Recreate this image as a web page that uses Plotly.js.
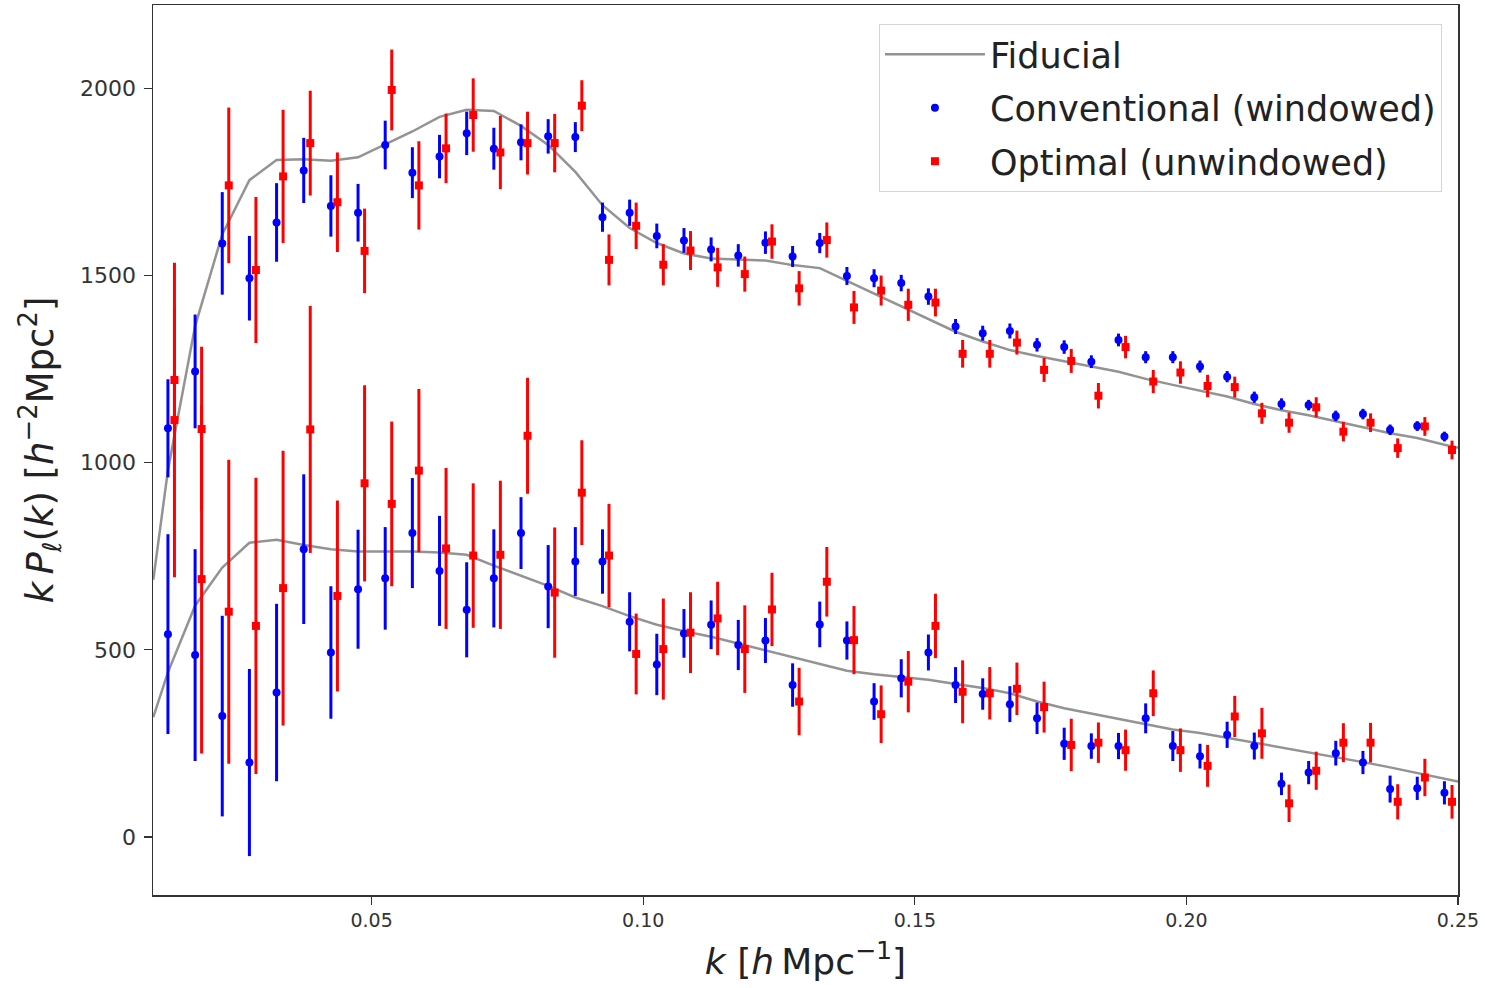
<!DOCTYPE html>
<html>
<head>
<meta charset="utf-8">
<script src="https://cdn.plot.ly/plotly-3.0.1.min.js"></script>
<style>html,body{margin:0;padding:0;background:#fff;}#chart{width:1485px;height:988px;}</style>
</head>
<body>
<div id="chart"></div>
<script>
// ---- data ----
var k_conv = [0.0125,0.0175,0.0225,0.0275,0.0325,0.0375,0.0425,0.0475,0.0525,0.0575,0.0625,0.0675,
  0.0725,0.0775,0.0825,0.0875,0.0925,0.0975,0.1025,0.1075,0.1125,0.1175,0.1225,0.1275,
  0.1325,0.1375,0.1425,0.1475,0.1525,0.1575,0.1625,0.1675,0.1725,0.1775,0.1825,0.1875,
  0.1925,0.1975,0.2025,0.2075,0.2125,0.2175,0.2225,0.2275,0.2325,0.2375,0.2425,0.2475];
var k_opt = [0.0137,0.0187,0.0237,0.0287,0.0337,0.0387,0.0437,0.0487,0.0537,0.0587,0.0637,0.0687,
  0.0737,0.0787,0.0837,0.0887,0.0937,0.0987,0.1037,0.1087,0.1137,0.1187,0.1237,0.1287,
  0.1338,0.1388,0.1438,0.1488,0.1538,0.1588,0.1638,0.1688,0.1738,0.1788,0.1838,0.1888,
  0.1939,0.1989,0.2039,0.2089,0.2139,0.2189,0.2239,0.2289,0.2339,0.2389,0.2439,0.2489];

var P0_conv = [1092,1244,1586,1493,1642,1781,1686,1668,1849,1775,1818,1880,
  1839,1856,1872,1870,1656,1668,1606,1594,1570,1554,1588,1551,
  1587,1499,1493,1480,1444,1364,1346,1352,1315,1309,1270,1328,
  1282,1282,1257,1230,1175,1157,1154,1125,1130,1088,1098,1070];
var E0_conv = [131,152,137,113,105,87,82,77,65,68,58,58,
  56,48,46,40,39,35,33,33,32,30,30,28,
  27,24,24,22,22,20,20,20,18,18,17,17,
  16,16,16,15,15,15,14,14,14,14,13,13];
var P0_opt = [1221,1090,1741,1515,1765,1854,1696,1566,1996,1741,1840,1929,
  1829,1854,1854,1954,1542,1633,1529,1567,1522,1504,1591,1466,
  1595,1415,1460,1422,1428,1291,1291,1321,1248,1272,1179,1309,
  1217,1241,1205,1202,1132,1107,1148,1083,1107,1039,1097,1034];
var E0_opt = [200,220,208,195,178,140,133,113,108,118,93,98,
  98,84,78,68,68,62,55,52,52,47,46,46,
  47,44,40,43,37,37,37,32,32,32,34,30,
  31,30,30,28,28,27,27,26,25,26,25,25];

var P2_conv = [542,486,323,199,386,769,493,662,691,812,711,607,
  691,812,669,736,736,575,461,544,567,513,525,406,
  568,525,362,424,493,406,382,355,317,249,243,243,
  317,243,216,273,243,142,172,224,199,128,130,118];
var E2_conv = [267,283,268,250,237,200,177,159,137,147,147,127,
  131,96,111,92,86,79,82,65,65,67,60,58,
  61,51,49,51,48,48,42,48,42,43,34,35,
  40,40,33,35,36,30,31,33,31,36,31,31];
var P2_opt = [1114,689,602,564,665,1089,644,945,890,979,771,752,
  754,1072,653,920,752,489,502,546,584,502,608,362,
  682,526,328,415,564,388,384,396,347,246,252,232,
  384,232,190,322,277,90,177,252,252,94,159,94];
var E2_opt = [420,466,406,396,367,330,255,262,220,218,215,193,
  198,155,174,140,138,108,135,108,98,117,98,90,
  93,91,77,82,86,84,70,70,68,70,54,55,
  61,58,56,55,68,50,51,52,53,47,50,45];

var k_fid = [0.0098,0.0125,0.0175,0.0225,0.0275,0.0325,0.0375,0.0425,0.0475,0.0525,0.0575,0.0625,0.0675,
  0.0725,0.0775,0.0825,0.0875,0.0925,0.0975,0.1025,0.1075,0.1125,0.1175,0.1225,0.1275,
  0.1325,0.1375,0.1425,0.1475,0.1525,0.1575,0.1625,0.1675,0.1725,0.1775,0.1825,0.1875,
  0.1925,0.1975,0.2025,0.2075,0.2125,0.2175,0.2225,0.2275,0.2325,0.2375,0.2425,0.2475,0.2500];
var fid_P0 = [687,980,1365,1610,1755,1809,1811,1807,1816,1850,1885,1924,1943,
  1940,1900,1849,1777,1688,1627,1587,1559,1546,1544,1540,1528,
  1520,1486,1452,1419,1384,1350,1324,1301,1285,1270,1257,1243,
  1224,1208,1193,1177,1157,1140,1127,1110,1095,1079,1066,1048,1040];
var fid_P2 = [320,440,618,720,786,794,780,769,763,763,763,760,754,
  725,698,671,640,617,590,567,550,535,517,499,480,
  462,444,435,427,420,409,398,384,362,344,330,314,
  301,287,278,265,252,240,228,214,200,186,170,156,148];

var xTicks = [0.05,0.10,0.15,0.20,0.25];
var xTickText = ['0.05','0.10','0.15','0.20','0.25'];
var yTicks = [0,500,1000,1500,2000];

var names = {fid:'Fiducial', conv:'Conventional (windowed)', opt:'Optimal (unwindowed)'};

// ---- traces ----
var fidLine = {color:'rgba(128,128,128,0.85)', width:2.5};
function errTrace(x, y, e, color, symbol, name, group, show){
  return {x:x, y:y, type:'scatter', mode:'markers', name:name, legendgroup:group, showlegend:show,
    marker:{color:color, size:8, symbol:symbol},
    error_y:{type:'data', array:e, visible:true, color:color, thickness:3, width:0}};
}
var traces = [
  {x:k_fid, y:fid_P0, type:'scatter', mode:'lines', name:names.fid, legendgroup:'fid', line:fidLine},
  {x:k_fid, y:fid_P2, type:'scatter', mode:'lines', name:names.fid, legendgroup:'fid', showlegend:false, line:fidLine},
  errTrace(k_conv, P0_conv, E0_conv, '#0000ff', 'circle', names.conv, 'conv', true),
  errTrace(k_conv, P2_conv, E2_conv, '#0000ff', 'circle', names.conv, 'conv', false),
  errTrace(k_opt, P0_opt, E0_opt, '#ff0000', 'square', names.opt, 'opt', true),
  errTrace(k_opt, P2_opt, E2_opt, '#ff0000', 'square', names.opt, 'opt', false)
];

var axisCommon = {showline:true, mirror:true, linecolor:'#333', linewidth:1.5, ticks:'outside',
  ticklen:8, tickwidth:1.2, tickcolor:'#333', showgrid:false, zeroline:false};

var layout = {
  width:1485, height:988,
  margin:{l:153, r:27, t:5, b:93, pad:0},
  paper_bgcolor:'#fff', plot_bgcolor:'#fff',
  font:{family:'DejaVu Sans', color:'#222'},
  xaxis:Object.assign({}, axisCommon, {
    range:[0.00975, 0.25], tickvals:xTicks, ticktext:xTickText,
    tickfont:{size:19, color:'#333'},
    title:{text:'<i>k</i> [<i>h</i>\u2009Mpc<sup>−1</sup>]', font:{size:36, color:'#222'}, standoff:18}
  }),
  yaxis:Object.assign({}, axisCommon, {
    range:[-155, 2223], tickvals:yTicks,
    tickfont:{size:22, color:'#333'}, ticklabelstandoff:3,
    title:{text:'<i>k</i>\u2009<i>P</i><sub><i>ℓ</i></sub>(<i>k</i>) [<i>h</i><sup>−2</sup>Mpc<sup>2</sup>]', font:{size:37, color:'#222'}, standoff:15}
  }),
  showlegend:true,
  legend:{x:0.9877, y:0.9787, xanchor:'right', yanchor:'top', bgcolor:'#fff',
    bordercolor:'#d4d4d4', borderwidth:1, font:{size:35, color:'#222'},
    itemwidth:100, tracegroupgap:5}
};

Plotly.newPlot('chart', traces, layout, {displayModeBar:false, staticPlot:true});
</script>
</body>
</html>
